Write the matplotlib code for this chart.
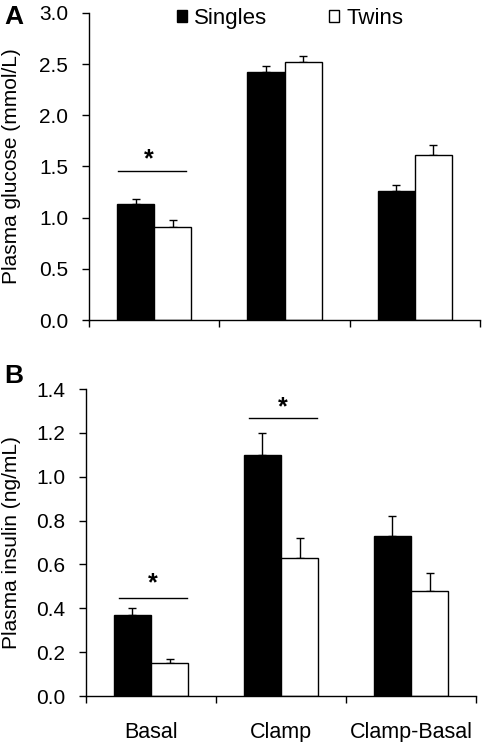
import matplotlib
matplotlib.use("Agg")
import matplotlib.pyplot as plt
import numpy as np

plt.rcParams['font.family'] = ['Liberation Sans', 'DejaVu Sans']

categories = ["Basal", "Clamp", "Clamp-Basal"]
series = ["Singles", "Twins"]

glucose_singles = [1.13, 2.42, 1.26]
glucose_singles_err = [0.05, 0.06, 0.06]
glucose_twins = [0.91, 2.52, 1.61]
glucose_twins_err = [0.07, 0.06, 0.10]

insulin_singles = [0.37, 1.10, 0.73]
insulin_singles_err = [0.03, 0.10, 0.09]
insulin_twins = [0.15, 0.63, 0.48]
insulin_twins_err = [0.02, 0.09, 0.08]

glucose_yticks = [0.0, 0.5, 1.0, 1.5, 2.0, 2.5, 3.0]
insulin_yticks = [0.0, 0.2, 0.4, 0.6, 0.8, 1.0, 1.2, 1.4]

# significance: (category index, line y, star y)
glucose_sig = [(0, 1.456, 1.57)]
insulin_sig = [(0, 0.447, 0.515), (1, 1.268, 1.315)]

fig = plt.figure(figsize=(4.82, 7.42), dpi=100)
axA = fig.add_axes([89/482, 1-320/742, (480-89)/482, 307/742])
axB = fig.add_axes([86/482, 1-696/742, (476-86)/482, 307/742])

w = 0.285
x = np.arange(len(categories)) + 0.5

def draw(ax, s, se, t, te, yticks, ylabel, sig, line_off, star_dx, label_x):
    ax.bar(x - w/2, s, w, color='black', edgecolor='black', linewidth=1, zorder=2, label=series[0])
    ax.bar(x + w/2, t, w, color='white', edgecolor='black', linewidth=1, zorder=2, label=series[1])
    ax.errorbar(x - w/2, s, yerr=[np.zeros(len(s)), se], fmt='none', ecolor='black',
                elinewidth=1, capsize=3, capthick=1, zorder=1)
    ax.errorbar(x + w/2, t, yerr=[np.zeros(len(t)), te], fmt='none', ecolor='black',
                elinewidth=1, capsize=3, capthick=1, zorder=1)
    ax.set_xlim(0, 3)
    ax.set_ylim(yticks[0], yticks[-1])
    ax.set_yticks(yticks)
    ax.set_yticklabels([f"{v:.1f}" for v in yticks], fontsize=15)
    ax.set_xticks([0, 1, 2, 3])
    ax.set_xticklabels([])
    ax.spines['top'].set_visible(False)
    ax.spines['right'].set_visible(False)
    ax.spines['left'].set_linewidth(1)
    ax.spines['bottom'].set_linewidth(1)
    ax.tick_params(axis='both', direction='out', length=5, width=1)
    ax.tick_params(axis='y', pad=10)
    ax.set_ylabel(ylabel, fontsize=15)
    ax.yaxis.set_label_coords(label_x, 0.5)
    for ci, ly, sy in sig:
        ax.plot([ci + line_off[0], ci + line_off[1]], [ly, ly], color='black', lw=1)
        ax.text(ci + 0.5 + star_dx, sy, '*', ha='center', va='center', fontsize=18, fontweight='bold')

draw(axA, glucose_singles, glucose_singles_err, glucose_twins, glucose_twins_err,
     glucose_yticks, "Plasma glucose (mmol/L)", glucose_sig, (0.22, 0.745), -0.04,
     (21-89)/391)
draw(axB, insulin_singles, insulin_singles_err, insulin_twins, insulin_twins_err,
     insulin_yticks, "Plasma insulin (ng/mL)", insulin_sig, (0.25, 0.78), 0.015,
     (21-86)/390)

axB.set_xticks(x, minor=True)
axB.set_xticklabels(categories, minor=True, fontsize=15.5)
axB.tick_params(axis='x', which='minor', length=0, pad=19)

leg = axA.legend(loc='center', bbox_to_anchor=(0.514, 0.982), ncol=2, frameon=False,
                 fontsize=16, handlelength=0.45, handleheight=0.45, handletextpad=0.32,
                 columnspacing=2.8, borderpad=0)

fig.text(4/482, 1-17/742, "A", fontsize=19, fontweight='bold', ha='left', va='center')
fig.text(4/482, 1-376/742, "B", fontsize=19, fontweight='bold', ha='left', va='center')

fig.savefig("out.png", dpi=100)
